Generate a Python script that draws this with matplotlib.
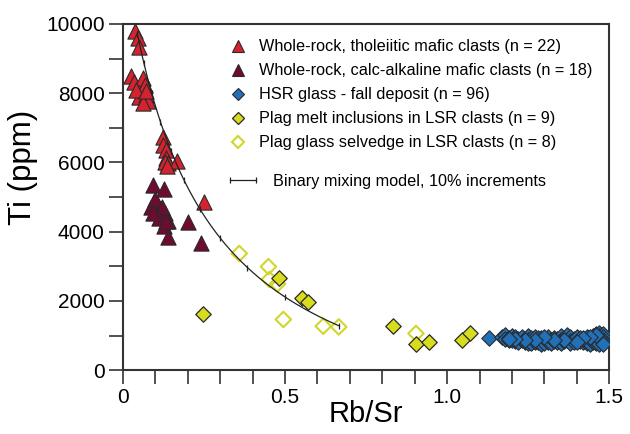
import numpy as np
import matplotlib
matplotlib.use("Agg")
import matplotlib.pyplot as plt
from matplotlib.lines import Line2D

plt.rcParams['font.family'] = ['Liberation Sans', 'DejaVu Sans']

# Whole-rock, tholeiitic mafic clasts
thol_x = [0.038, 0.048, 0.050, 0.026, 0.034, 0.062, 0.067, 0.051, 0.072, 0.077, 0.041,
          0.062, 0.123, 0.123, 0.134, 0.134, 0.139, 0.168, 0.129, 0.250, 0.070, 0.136]
thol_y = [9800, 9580, 9320, 8500, 8330, 8450, 8240, 7900, 7950, 7780, 8090,
          7720, 6740, 6500, 6360, 6120, 5970, 6050, 6020, 4860, 8050, 5900]

# Whole-rock, calc-alkaline mafic clasts
calc_x = [0.093, 0.127, 0.096, 0.106, 0.087, 0.113, 0.129, 0.118, 0.139, 0.127, 0.139,
          0.201, 0.240, 0.100, 0.120, 0.110, 0.132, 0.092]
calc_y = [5350, 5220, 4870, 4800, 4700, 4600, 4550, 4480, 4320, 4160, 3850,
          4290, 3680, 4950, 4700, 4400, 4300, 4550]

# HSR glass - fall deposit
hsr_x = [1.13, 1.17, 1.18, 1.18, 1.19, 1.19, 1.20, 1.20,
         1.21, 1.21, 1.22, 1.22, 1.23, 1.23, 1.24, 1.24,
         1.25, 1.25, 1.25, 1.26, 1.26, 1.26, 1.27, 1.27,
         1.27, 1.28, 1.28, 1.28, 1.29, 1.29, 1.29, 1.30,
         1.30, 1.30, 1.31, 1.31, 1.31, 1.32, 1.32, 1.33,
         1.33, 1.34, 1.34, 1.35, 1.35, 1.35, 1.36, 1.36,
         1.37, 1.37, 1.38, 1.38, 1.38, 1.39, 1.39, 1.40,
         1.40, 1.41, 1.41, 1.42, 1.42, 1.43, 1.43, 1.43,
         1.44, 1.44, 1.44, 1.45, 1.45, 1.45, 1.45, 1.46,
         1.46, 1.46, 1.46, 1.47, 1.47, 1.47, 1.47, 1.47,
         1.48, 1.48, 1.48, 1.48, 1.48, 1.46, 1.44, 1.42,
         1.40, 1.36, 1.33, 1.30, 1.27, 1.24, 1.21, 1.19]
hsr_y = [920, 960, 1010, 900, 860, 940, 990, 880,
         840, 960, 900, 800, 870, 950, 820, 910,
         980, 860, 790, 930, 850, 780, 900, 820,
         960, 880, 800, 940, 860, 770, 920, 840,
         900, 790, 870, 960, 810, 880, 780, 930,
         840, 900, 800, 1000, 870, 790, 920, 840,
         1030, 880, 960, 850, 790, 910, 820, 880,
         960, 840, 920, 800, 890, 860, 780, 950,
         820, 900, 760, 980, 860, 800, 920, 1040,
         950, 880, 790, 1080, 1000, 900, 830, 770,
         1040, 960, 880, 820, 760, 1010, 950, 930,
         800, 880, 880, 950, 870, 860, 890, 910]

# Plag melt inclusions in LSR clasts
melt_x = [0.246, 0.483, 0.551, 0.572, 0.832, 0.904, 0.945, 1.047, 1.071]
melt_y = [1610, 2650, 2090, 1965, 1270, 770, 820, 870, 1060]

# Plag glass selvedge in LSR clasts
selv_x = [0.359, 0.449, 0.452, 0.477, 0.495, 0.618, 0.666, 0.904]
selv_y = [3370, 2990, 2620, 2490, 1465, 1270, 1250, 1060]

# Binary mixing end-members: Rb/Sr, Ti (ppm), relative Sr content
mafic_rbsr, mafic_ti, mafic_sr = 0.045, 9700, 1.0
felsic_rbsr, felsic_ti, felsic_sr = 0.667, 1280, 0.30


def mix(f):
    sr = (1 - f) * mafic_sr + f * felsic_sr
    rb = (1 - f) * mafic_sr * mafic_rbsr + f * felsic_sr * felsic_rbsr
    ti = (1 - f) * mafic_ti + f * felsic_ti
    return rb / sr, ti


fig = plt.figure(figsize=(6.30, 4.34), dpi=100)
ax = fig.add_axes([0.195, 0.147, 0.772, 0.798])

edge = '#2a2a2a'
ax.scatter(thol_x, thol_y, marker='^', s=120, c='#d4232f', edgecolors=edge,
           linewidths=0.8, zorder=3)
ax.scatter(calc_x, calc_y, marker='^', s=120, c='#6e0b30', edgecolors=edge,
           linewidths=0.8, zorder=3)
ax.scatter(hsr_x, hsr_y, marker='D', s=62, c='#2170b8', edgecolors=edge,
           linewidths=0.8, zorder=3)
ax.scatter(selv_x, selv_y, marker='D', s=62, facecolors='none',
           edgecolors='#d2d62a', linewidths=1.5, zorder=3)
ax.scatter(melt_x, melt_y, marker='D', s=62, c='#d8dc1e', edgecolors=edge,
           linewidths=0.9, zorder=3)

f_line = np.linspace(0, 1, 200)
cx, cy = mix(f_line)
ax.plot(cx, cy, color='#222222', lw=0.9, zorder=4)
f_tick = np.linspace(0, 1, 11)
tx, ty = mix(f_tick)
ax.plot(tx, ty, ls='none', marker='|', ms=5, mew=0.9, color='#222222', zorder=4)

ax.set_xlim(0, 1.5)
ax.set_ylim(0, 10000)
ax.set_xticks([0, 0.5, 1.0, 1.5])
ax.set_xticklabels(['0', '0.5', '1.0', '1.5'])
ax.set_xticks(np.arange(0, 1.51, 0.1), minor=True)
ax.set_yticks([0, 2000, 4000, 6000, 8000, 10000])
ax.set_yticks(np.arange(0, 10001, 1000), minor=True)
ax.tick_params(which='both', direction='out', length=10, width=1.2, color='#333333',
               labelsize=15, pad=3)
for sp in ax.spines.values():
    sp.set_linewidth(1.5)
    sp.set_color('#333333')

ax.set_xlabel('Rb/Sr', fontsize=21, labelpad=-5)
ax.set_ylabel('Ti (ppm)', fontsize=22.5)
ax.yaxis.set_label_coords(-0.175, 0.585)

handles = [
    Line2D([], [], ls='none', marker='^', ms=8, mfc='#d4232f', mec=edge, mew=0.8),
    Line2D([], [], ls='none', marker='^', ms=8, mfc='#6e0b30', mec=edge, mew=0.8),
    Line2D([], [], ls='none', marker='D', ms=6, mfc='#2170b8', mec=edge, mew=0.8),
    Line2D([], [], ls='none', marker='D', ms=6, mfc='#d8dc1e', mec=edge, mew=0.9),
    Line2D([], [], ls='none', marker='D', ms=6, mfc='none', mec='#d2d62a', mew=1.5),
]
labels = [
    'Whole-rock, tholeiitic mafic clasts (n = 22)',
    'Whole-rock, calc-alkaline mafic clasts (n = 18)',
    'HSR glass - fall deposit (n = 96)',
    'Plag melt inclusions in LSR clasts (n = 9)',
    'Plag glass selvedge in LSR clasts (n = 8)',
]
leg1 = ax.legend(handles, labels, loc='upper left', bbox_to_anchor=(0.355, 0.924),
                 bbox_transform=fig.transFigure, frameon=False, fontsize=11.7,
                 handlelength=1.0, handletextpad=0.75, labelspacing=0.55,
                 borderaxespad=0)
ax.add_artist(leg1)

mix_handle = Line2D([], [], color='#222222', lw=0.9, marker='|', ms=5, mew=0.9)
ax.legend([mix_handle], ['Binary mixing model, 10% increments'], loc='upper left',
          bbox_to_anchor=(0.347, 0.615), bbox_transform=fig.transFigure,
          frameon=False, fontsize=11.7, handlelength=2.2, handletextpad=0.75,
          numpoints=2, borderaxespad=0)

fig.savefig('out.png', dpi=100)
